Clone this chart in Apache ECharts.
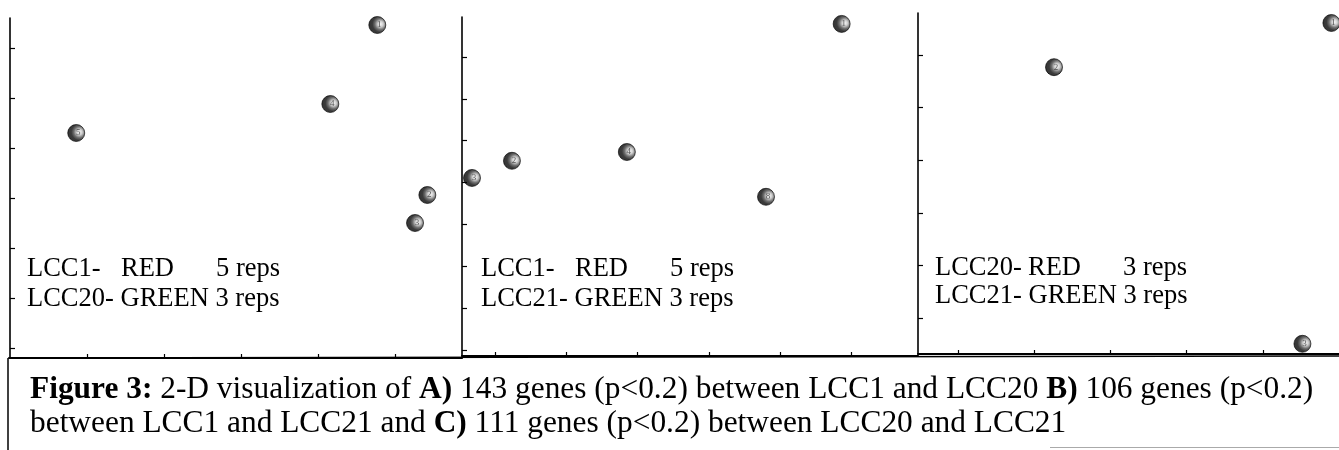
<!DOCTYPE html>
<html>
<head>
<meta charset="utf-8">
<script src="https://cdn.jsdelivr.net/npm/echarts@6/dist/echarts.min.js"></script>
<style>html,body{margin:0;padding:0;background:#fff;}#c{width:1339px;height:450px;}</style>
</head>
<body>
<div id="c"></div>
<script>
// Panel A: LCC1 vs LCC20
const aLabels = ['1', '4', '5', '2', '3'];
const aX = [4.77, 4.16, 0.86, 5.42, 5.26];
const aY = [7.46, 5.88, 5.30, 4.06, 3.50];
const aXTicks = [1, 2, 3, 4, 5];
const aYTicks = [1, 2, 3, 4, 5, 6, 7];
// Panel B: LCC1 vs LCC21
const bLabels = ['1', '2', '3', '4', '8'];
const bX = [5.86, 1.24, 0.68, 2.85, 4.80];
const bY = [8.79, 5.52, 5.11, 5.73, 4.66];
const bXTicks = [1, 2, 3, 4, 5, 6];
const bYTicks = [1, 2, 3, 4, 5, 6, 7, 8];
// Panel C: LCC20 vs LCC21
const cLabels = ['1', '2', '3'];
const cX = [5.90, 2.26, 5.52];
const cY = [6.61, 5.77, 0.51];
const cXTicks = [1, 2, 3, 4, 5];
const cYTicks = [1, 2, 3, 4, 5, 6];

const legendA = ['LCC1-', 'RED', '5 reps', 'LCC20- GREEN 3 reps'];
const legendB = ['LCC1-', 'RED', '5 reps', 'LCC21- GREEN 3 reps'];
const legendC = ['LCC20-', 'RED', '3 reps', 'LCC21- GREEN 3 reps'];
const captionLine1 = '{b|Figure 3:} 2-D visualization of {b|A)} 143 genes (p<0.2) between LCC1 and LCC20 {b|B)} 106 genes (p<0.2)';
const captionLine2 = 'between LCC1 and LCC21 and {b|C)} 111 genes (p<0.2) between LCC20 and LCC21';

const chart = echarts.init(document.getElementById('c'), null, {renderer: 'canvas'});
const serif = '"Liberation Serif", "Times New Roman", serif';

function xAxis(idx, min, max, ticks) {
  return {
    type: 'value', gridIndex: idx, min: min, max: max,
    axisLine: {show: true, onZero: false, lineStyle: {color: '#000', width: 2.2}},
    axisTick: {show: true, inside: true, length: 4, customValues: ticks, lineStyle: {color: '#000', width: 1.2}},
    axisLabel: {show: false},
    splitLine: {show: false}
  };
}
function yAxis(idx, min, max, ticks) {
  return {
    type: 'value', gridIndex: idx, min: min, max: max,
    axisLine: {show: true, onZero: false, lineStyle: {color: '#000', width: 1.6}},
    axisTick: {show: true, inside: true, length: 5, customValues: ticks, lineStyle: {color: '#000', width: 1.2}},
    axisLabel: {show: false},
    splitLine: {show: false}
  };
}
const sphere = {
  type: 'radial', x: 0.68, y: 0.45, r: 0.7,
  colorStops: [
    {offset: 0, color: '#f4f4f4'},
    {offset: 0.22, color: '#c4c4c4'},
    {offset: 0.45, color: '#4a4a4a'},
    {offset: 0.65, color: '#0a0a0a'},
    {offset: 1, color: '#000'}
  ]
};
function pts(xs, ys, labels) {
  return xs.map((x, i) => ({value: [x, ys[i]], name: labels[i]}));
}
function scatter(idx, xs, ys, labels) {
  return {
    type: 'scatter', xAxisIndex: idx, yAxisIndex: idx, clip: false,
    symbolSize: 17,
    itemStyle: {color: sphere, borderColor: '#000', borderWidth: 0.8},
    label: {show: true, position: 'inside', formatter: p => p.name, fontSize: 9, color: '#333', fontFamily: serif, offset: [2, 0]},
    data: pts(xs, ys, labels)
  };
}
function legendTexts(x0, x1, x2, y1, y2, arr) {
  const st = {font: '26.5px ' + serif, fill: '#000', verticalAlign: 'middle', align: 'left'};
  return [
    {type: 'text', left: x0, top: y1 - 15, style: Object.assign({text: arr[0]}, st)},
    {type: 'text', left: x1, top: y1 - 15, style: Object.assign({text: arr[1]}, st)},
    {type: 'text', left: x2, top: y1 - 15, style: Object.assign({text: arr[2]}, st)},
    {type: 'text', left: x0, top: y2 - 15, style: Object.assign({text: arr[3]}, st)}
  ];
}
const capStyle = {fontSize: 31.4, fontFamily: serif, fill: '#000', rich: {b: {fontSize: 31.4, fontFamily: serif, fontWeight: 'bold', fill: '#000'}}};

const option = {
  backgroundColor: '#fff',
  animation: false,
  grid: [
    {left: 10, top: 18, width: 452, height: 340},
    {left: 462, top: 17, width: 456, height: 339},
    {left: 918, top: 13, width: 421, height: 341}
  ],
  xAxis: [
    xAxis(0, 0, 5.87, aXTicks),
    xAxis(1, 0.54, 6.93, bXTicks),
    xAxis(2, 0.475, 6.0, cXTicks)
  ],
  yAxis: [
    yAxis(0, 0.8, 7.6, aYTicks),
    yAxis(1, 0.857, 8.955, bYTicks),
    yAxis(2, 0.316, 6.8, cYTicks)
  ],
  series: [
    scatter(0, aX, aY, aLabels),
    scatter(1, bX, bY, bLabels),
    scatter(2, cX, cY, cLabels)
  ],
  graphic: [].concat(
    legendTexts(27, 121, 216, 271, 301, legendA),
    legendTexts(481, 575, 670, 271, 301, legendB),
    legendTexts(935, 1028, 1123, 270, 298, legendC),
    [
      {type: 'line', shape: {x1: 8, y1: 358, x2: 8, y2: 450}, style: {stroke: '#000', lineWidth: 1.5}},
      {type: 'line', shape: {x1: 8, y1: 358, x2: 1339, y2: 356}, style: {stroke: '#000', lineWidth: 1.5}},
      {type: 'line', shape: {x1: 1050, y1: 447.5, x2: 1339, y2: 447.5}, style: {stroke: '#aaa', lineWidth: 1}},
      {type: 'text', left: 30, top: 374, style: Object.assign({text: captionLine1}, capStyle)},
      {type: 'text', left: 30, top: 408, style: Object.assign({text: captionLine2}, capStyle)}
    ]
  )
};
chart.setOption(option);
</script>
</body>
</html>
